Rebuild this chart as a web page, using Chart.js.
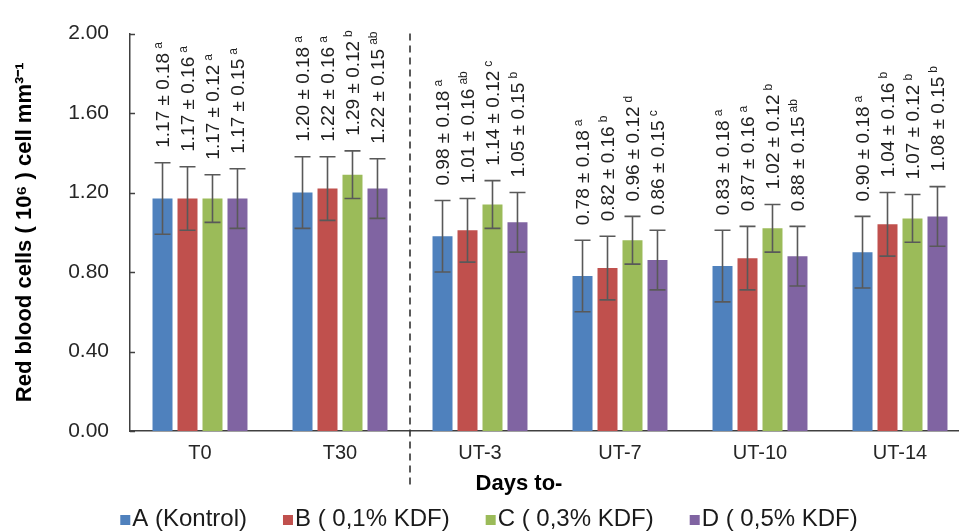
<!DOCTYPE html>
<html>
<head>
<meta charset="utf-8">
<script src="https://cdn.jsdelivr.net/npm/chart.js@4.4.1/dist/chart.umd.min.js"></script>
<style>
  html, body { margin: 0; padding: 0; background: #fff; overflow: hidden; }
  #wrap { width: 985px; height: 531px; }
</style>
</head>
<body>
<div id="wrap"><canvas id="chart" width="985" height="531"></canvas></div>
<script>
const days = ['T0', 'T30', 'UT-3', 'UT-7', 'UT-10', 'UT-14'];
const groupNames = ['A (Kontrol)', 'B ( 0,1% KDF)', 'C ( 0,3% KDF)', 'D ( 0,5% KDF)'];
const colors = ['#4F81BD', '#C0504D', '#9BBB59', '#8064A2'];

const valuesA = [1.17, 1.20, 0.98, 0.78, 0.83, 0.90];
const valuesB = [1.17, 1.22, 1.01, 0.82, 0.87, 1.04];
const valuesC = [1.17, 1.29, 1.14, 0.96, 1.02, 1.07];
const valuesD = [1.17, 1.22, 1.05, 0.86, 0.88, 1.08];

const sdA = [0.18, 0.18, 0.18, 0.18, 0.18, 0.18];
const sdB = [0.16, 0.16, 0.16, 0.16, 0.16, 0.16];
const sdC = [0.12, 0.12, 0.12, 0.12, 0.12, 0.12];
const sdD = [0.15, 0.15, 0.15, 0.15, 0.15, 0.15];

const lettersA = ['a', 'a', 'a', 'a', 'a', 'a'];
const lettersB = ['a', 'a', 'ab', 'b', 'a', 'b'];
const lettersC = ['a', 'b', 'c', 'd', 'b', 'b'];
const lettersD = ['a', 'ab', 'b', 'c', 'ab', 'b'];

const yMin = 0, yMax = 2, yStep = 0.4;

const FONT = '"Liberation Sans", Arial, sans-serif';

const values  = [valuesA, valuesB, valuesC, valuesD];
const sds     = [sdA, sdB, sdC, sdD];
const letters = [lettersA, lettersB, lettersC, lettersD];

// error bars + rotated value labels
const errorBars = {
  id: 'errorBars',
  afterDatasetsDraw(chart) {
    const ctx = chart.ctx;
    const y = chart.scales.y;
    chart.data.datasets.forEach((ds, i) => {
      const meta = chart.getDatasetMeta(i);
      meta.data.forEach((bar, j) => {
        const v = ds.data[j], sd = ds.sd[j];
        const top = y.getPixelForValue(v + sd);
        const bot = y.getPixelForValue(v - sd);
        ctx.save();
        ctx.strokeStyle = '#595959';
        ctx.lineWidth = 1.6;
        ctx.beginPath();
        ctx.moveTo(bar.x, top); ctx.lineTo(bar.x, bot);
        ctx.moveTo(bar.x - 8, top); ctx.lineTo(bar.x + 8, top);
        ctx.moveTo(bar.x - 8, bot); ctx.lineTo(bar.x + 8, bot);
        ctx.stroke();

        ctx.translate(bar.x, top - 15);
        ctx.rotate(-Math.PI / 2);
        ctx.fillStyle = '#1f1f1f';
        ctx.textAlign = 'left';
        ctx.textBaseline = 'middle';
        ctx.font = '19px ' + FONT;
        const txt = v.toFixed(2) + ' \u00B1 ' + sd.toFixed(2);
        ctx.fillText(txt, 0, 1);
        const w = ctx.measureText(txt).width;
        ctx.font = '12px ' + FONT;
        ctx.fillText(ds.letters[j], w + 4, -4);
        ctx.restore();
      });
    });
  }
};

// inward y ticks, dashed divider, x title, legend
const decorations = {
  id: 'decorations',
  afterDraw(chart) {
    const ctx = chart.ctx;
    const area = chart.chartArea;
    const x = chart.scales.x, y = chart.scales.y;

    ctx.save();
    ctx.strokeStyle = '#404040';
    ctx.lineWidth = 1.5;
    y.ticks.forEach(t => {
      const py = Math.round(y.getPixelForValue(t.value)) + 0.5;
      ctx.beginPath();
      ctx.moveTo(area.left, py);
      ctx.lineTo(area.left + 5, py);
      ctx.stroke();
    });

    // dashed line between T30 and UT-3
    const dx = (x.getPixelForValue(1) + x.getPixelForValue(2)) / 2;
    ctx.strokeStyle = '#333';
    ctx.lineWidth = 1.6;
    ctx.setLineDash([7, 5]);
    ctx.beginPath();
    ctx.moveTo(dx, area.top);
    ctx.lineTo(dx, 486);
    ctx.stroke();
    ctx.setLineDash([]);

    // x title
    ctx.fillStyle = '#000';
    ctx.font = 'bold 22px ' + FONT;
    ctx.textAlign = 'center';
    ctx.textBaseline = 'middle';
    ctx.fillText('Days to-', 519, 484);

    // legend
    ctx.font = '24px ' + FONT;
    ctx.textAlign = 'left';
    const box = 10, gapBox = 2, gapItem = 36;
    const widths = chart.data.datasets.map(ds => box + gapBox + ctx.measureText(ds.label).width);
    const total = widths.reduce((a, b) => a + b, 0) + gapItem * (widths.length - 1);
    let lx = 489 - total / 2;
    const ly = 519;
    chart.data.datasets.forEach((ds, i) => {
      ctx.fillStyle = ds.backgroundColor;
      ctx.fillRect(lx, ly - 4, box, box);
      ctx.fillStyle = '#1a1a1a';
      ctx.fillText(ds.label, lx + box + gapBox, ly);
      lx += widths[i] + gapItem;
    });
    ctx.restore();
  }
};

const datasets = groupNames.map((name, i) => ({
  label: name,
  data: values[i],
  sd: sds[i],
  letters: letters[i],
  backgroundColor: colors[i],
  borderWidth: 0,
  categoryPercentage: 0.714,
  barPercentage: 0.8
}));

new Chart(document.getElementById('chart'), {
  type: 'bar',
  data: { labels: days, datasets },
  options: {
    responsive: false,
    animation: false,
    layout: { padding: { top: 25, right: 15, bottom: 0, left: 0 } },
    plugins: {
      legend: { display: false },
      tooltip: { enabled: false }
    },
    scales: {
      x: {
        grid: { display: false, drawTicks: false },
        border: { display: true, color: '#404040', width: 1.5 },
        ticks: { color: '#262626', font: { family: FONT, size: 20 }, padding: 10 },
        afterFit: s => { s.height = 100; }
      },
      y: {
        min: yMin,
        max: yMax,
        grid: { display: false, drawTicks: false },
        border: { display: true, color: '#404040', width: 1.5 },
        ticks: {
          stepSize: yStep,
          color: '#262626',
          font: { family: FONT, size: 21 },
          padding: 21,
          callback: v => Number(v).toFixed(2)
        },
        title: {
          display: true,
          text: 'Red blood cells ( 10\u2076 ) cell mm\u00B3\u207B\u00B9',
          color: '#000',
          font: { family: FONT, size: 22, weight: 'bold' },
          padding: { top: 12, bottom: 0 }
        },
        afterFit: s => { s.width = 130; }
      }
    }
  },
  plugins: [errorBars, decorations]
});
</script>
</body>
</html>
